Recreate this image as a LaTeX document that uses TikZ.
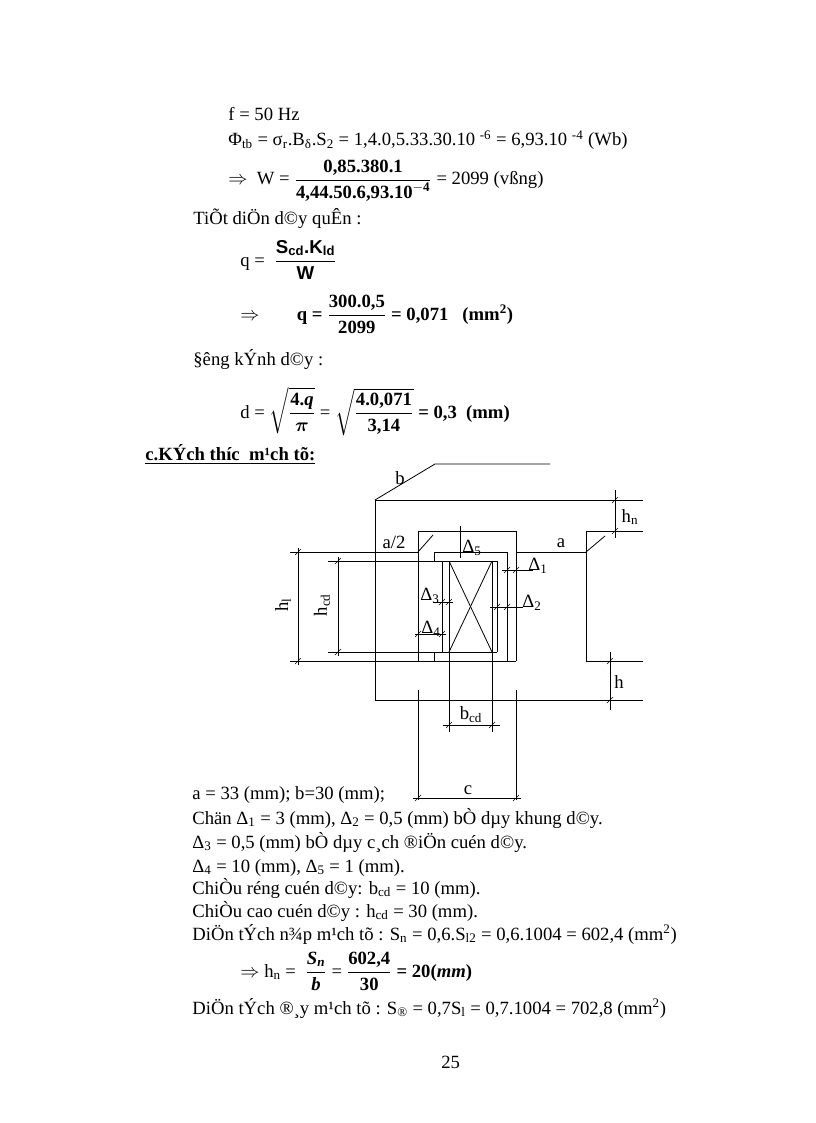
\documentclass[tikz,border=0pt]{standalone}
\usepackage{amsmath}
\usepackage{fontspec}
\setmainfont{Liberation Serif}
\setsansfont{Liberation Sans}
\newcommand{\tk}[1]{\draw[thin] ($#1+(-3,3)$) -- ($#1+(3,-3)$);}
\usetikzlibrary{calc}
\begin{document}
\begin{tikzpicture}[x=0.75pt,y=-0.75pt,line width=0.6pt,
  txt/.style={anchor=base west,inner sep=0pt,font=\fontsize{14}{16}\selectfont},
  lbl/.style={inner sep=0pt,font=\fontsize{14}{16}\selectfont}]
\useasboundingbox[fill=white] (0,0) rectangle (816,1123);
% ---------- text top ----------
\node[txt] (t1) at (228,121) {f = 50  Hz};
\node[txt] (t2) at (228,146) {Φ\textsubscript{tb} = σ\textsubscript{r}.B\textsubscript{δ}.S\textsubscript{2} = 1,4.0,5.33.30.10 \textsuperscript{-6} = 6,93.10 \textsuperscript{-4}  (Wb)};
\node[txt] (t3) at (228,185) {$\Rightarrow$\ \ W = $\dfrac{\textbf{0,85.380.1}}{\textbf{4,44.50.6,93.10}^{\mathbf{-4}}}$ = 2099  (vßng)};
\node[txt] (t4) at (193,224) {TiÕt diÖn d©y quÊn :};
\node[txt] (t5) at (240,266) {q = \ $\dfrac{\textsf{\textbf{S\textsubscript{cd}.K\textsubscript{ld}}}}{\textsf{\textbf{W}}}$};
\node[txt] (t6) at (240,320) {$\Rightarrow$\qquad \textbf{q =} $\dfrac{\textbf{300.0,5}}{\textbf{2099}}$ \textbf{= 0,071 \ \ (mm\textsuperscript{2})}};
\node[txt] (t7) at (193,365) {§êng  kÝnh d©y :};
\node[txt] (t8) at (240,418) {d = $\sqrt{\dfrac{\textbf{4.\textit{q}}}{\boldsymbol{\pi}}}$ = $\sqrt{\dfrac{\textbf{4.0,071}}{\textbf{3,14}}}$ \textbf{= 0,3 \ (mm)}};
\node[txt] (t9) at (145,460) {\textbf{\underline{c.KÝch thíc \ m¹ch tõ:}}};
% ---------- drawing ----------
\draw (375,700) -- (375,500) -- (643,500);
\draw (375,500) -- (435,464) -- (550,464);
\node[lbl] (lb) at (400,478) {b};
\draw (375,700) -- (643,700);
\draw (290,552) -- (418,552) -- (418,531) -- (516,531) -- (516,552) -- (586,552) -- (586,531) -- (643,531);
\draw (586,552) -- (586,661) -- (643,661);
\draw (290,661) -- (516,661);
\draw (418,552) -- (433,535);
\draw (586,552) -- (605,536);
\node[lbl] (la2) at (394,542) {a/2};
\node[lbl] (la) at (561,543) {a};
% hn
\draw (615,490) -- (615,538); \tk{(615,500)} \tk{(615,531)}
\node[lbl] (lhn) at (630,517) {h\textsubscript{n}};
% h
\draw (610,652) -- (610,710); \tk{(610,661)} \tk{(610,700)}
\node[lbl] (lh) at (619,682) {h};
% window verticals
\draw (418,552) -- (418,661);
\draw (516,552) -- (516,661);
% bobbin frame
\draw (434,561) -- (434,552) -- (507,552) -- (507,661);
\draw (434,652) -- (434,661);
\draw (442,561) -- (442,652);
\draw (497,561) -- (497,652);
% coil
\draw (328,561) -- (497,561);
\draw (328,652) -- (497,652);
\draw (449,561) -- (449,652);
\draw (492,561) -- (492,652);
\draw (449,561) -- (492,652);
\draw (492,561) -- (449,652);
% hl, hcd
\draw (298,548) -- (298,665); \tk{(298,552)} \tk{(298,661)}
\node[lbl,rotate=90] (lhl) at (283,605) {h\textsubscript{l}};
\draw (338,557) -- (338,656); \tk{(338,561)} \tk{(338,652)}
\node[lbl,rotate=90] (lhcd) at (322,605) {h\textsubscript{cd}};
% delta 5
\draw (460,526) -- (460,558);
\node[lbl] (d5) at (472,548) {Δ\textsubscript{5}};
% delta 1
\draw (502,570) -- (533,570); \tk{(507,570)} \tk{(516,570)}
\node[lbl] (d1) at (538,566) {Δ\textsubscript{1}};
% delta 2
\draw (490,607) -- (523,607); \tk{(497,607)} \tk{(507,607)}
\node[lbl] (d2) at (532,603) {Δ\textsubscript{2}};
% delta 3
\draw (433,602) -- (453,602); \tk{(442,602)} \tk{(449,602)}
\node[lbl] (d3) at (430,596) {Δ\textsubscript{3}};
% delta 4
\draw (415,634) -- (446,634); \tk{(418,634)} \tk{(442,634)}
\node[lbl] (d4) at (431,629) {Δ\textsubscript{4}};
% bcd
\draw (449,652) -- (449,732); \draw (492,652) -- (492,732);
\draw (443,725) -- (500,725); \tk{(449,725)} \tk{(492,725)}
\node[lbl] (lbcd) at (471,715) {b\textsubscript{cd}};
% c
\draw (418,690) -- (418,800); \draw (516,690) -- (516,800);
\draw (413,798) -- (521,798); \tk{(418,798)} \tk{(516,798)}
\node[lbl] (lc) at (468,790) {c};
% ---------- text bottom ----------
\node[txt] (b1) at (192,799) {a = 33 (mm);  b=30 (mm);};
\node[txt] (b2) at (192,824) {Chän  Δ\textsubscript{1} = 3 (mm), Δ\textsubscript{2} = 0,5  (mm) bÒ dµy khung  d©y.};
\node[txt] (b3) at (192,848) {Δ\textsubscript{3} = 0,5  (mm) bÒ dµy c¸ch ®iÖn cuén d©y.};
\node[txt] (b4) at (192,872) {Δ\textsubscript{4} = 10  (mm), Δ\textsubscript{5} = 1  (mm).};
\node[txt] (b5) at (192,894) {ChiÒu réng cuén d©y: b\textsubscript{cd} = 10 (mm).};
\node[txt] (b6) at (192,917) {ChiÒu cao cuén d©y : h\textsubscript{cd} = 30 (mm).};
\node[txt] (b7) at (192,940) {DiÖn tÝch n¾p m¹ch tõ : S\textsubscript{n} = 0,6.S\textsubscript{l2} = 0,6.1004 = 602,4  (mm\textsuperscript{2})};
\node[txt] (b8) at (240,977) {$\Rightarrow$ h\textsubscript{n} = \ $\dfrac{\textbf{\textit{S\textsubscript{n}}}}{\textbf{\textit{b}}}$ = $\dfrac{\textbf{602,4}}{\textbf{30}}$ \textbf{= 20(\textit{mm})}};
\node[txt] (b9) at (192,1014) {DiÖn tÝch ®¸y m¹ch tõ : S\textsubscript{®} = 0,7S\textsubscript{l} = 0,7.1004 = 702,8 (mm\textsuperscript{2})};
\node[txt] (pg) at (441,1068) {25};
\end{tikzpicture}
\end{document}
